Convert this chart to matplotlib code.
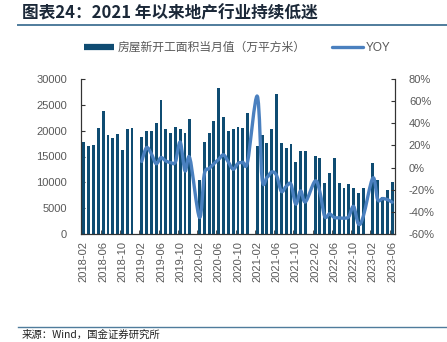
import numpy as np
import pandas as pd
import matplotlib
matplotlib.use("Agg")
import matplotlib.pyplot as plt
from matplotlib.lines import Line2D
from matplotlib.path import Path
from matplotlib.patches import PathPatch
from matplotlib.ticker import FixedLocator, FuncFormatter

plt.rcParams["font.family"] = ["Liberation Sans", "Noto Sans CJK SC", "DejaVu Sans"]

# monthly categories, January is reported together with February (no value)
months = [p.strftime("%Y-%m") for p in pd.period_range("2018-02", "2023-06", freq="M")]

# 房屋新开工面积当月值（万平方米）
starts = [
    17800, 17000, 17200, 20600, 23800, 19100, 18600, 19350, 16300, 20300, 20500,  # 2018-02..12
    None, 18800, 19950, 20000, 21450, 25900, 20250, 19500, 20700, 20250, 19500, 22200,  # 2019
    None, 10400, 17900, 19500, 21900, 28200, 22600, 20000, 20250, 20650, 20450, 23450,  # 2020
    None, 17100, 19200, 17700, 20350, 27100, 17650, 16550, 17400, 13850, 16050, 16050,  # 2021
    None, 15100, 14800, 9950, 11850, 14800, 9850, 8950, 9600, 8950, 7900, 8950,  # 2022
    None, 13700, 10500, 7150, 8500, 10150,  # 2023
]

# YOY, %
yoy = [
    None, None, None, None, None, None, None, None, None, None, None,
    None, 5.5, 18, 12.5, 3.5, 9, 6, 4.5, 5, 23, -3, 8.5,
    None, -45, -6, -1, 3.5, 7.5, 11.5, 5, -1.5, 3.8, 4.7, 5.5,
    None, 64.5, -10, -9, -4, -7, -21.5, -17, -15, -33, -21, -31,
    None, -12.2, -22, -44.2, -41.8, -45.1, -45.4, -45.7, -44.4, -35.1, -50.9, -44.3,
    None, -9.4, -29, -28, -28.9, -31.3,
]

BAR_COLOR = "#0f4c72"
LINE_COLOR = "#4a80bf"
TICK_COLOR = "#595959"
SPINE_COLOR = "#333333"
RULE_COLOR = "#4f7c9c"


def smooth_path(xs, ys):
    """Catmull-Rom style cubic path through the points (like a smoothed line)."""
    pts = np.column_stack([xs, ys]).astype(float)
    verts = [pts[0]]
    codes = [Path.MOVETO]
    n = len(pts)
    for i in range(n - 1):
        p0 = pts[i - 1] if i > 0 else pts[i]
        p1 = pts[i]
        p2 = pts[i + 1]
        p3 = pts[i + 2] if i + 2 < n else pts[i + 1]
        c1 = p1 + (p2 - p0) / 6.0
        c2 = p2 - (p3 - p1) / 6.0
        verts += [c1, c2, p2]
        codes += [Path.CURVE4] * 3
    return Path(verts, codes)


fig = plt.figure(figsize=(4.47, 3.42), dpi=100)
ax = fig.add_axes([81 / 447, 1 - 234 / 342, 314 / 447, 155 / 342])
ax2 = ax.twinx()

x = np.arange(len(months))
bar_vals = np.array([np.nan if v is None else v for v in starts], dtype=float)
ax.bar(x, bar_vals, width=0.6, color=BAR_COLOR, linewidth=0, zorder=2)

yoy_vals = np.array([np.nan if v is None else v for v in yoy], dtype=float)
ok = ~np.isnan(yoy_vals)
ax2.add_patch(PathPatch(smooth_path(x[ok], yoy_vals[ok]), facecolor="none",
                        edgecolor=LINE_COLOR, lw=2.4, capstyle="round", joinstyle="round"))

ax.set_xlim(-0.6, len(months) - 0.4)
ax.set_ylim(0, 30000)
ax.set_yticks(np.arange(0, 30001, 5000))
ax2.set_ylim(-60, 80)
ax2.set_yticks(np.arange(-60, 81, 20))
ax2.yaxis.set_major_formatter(FuncFormatter(lambda v, _: f"{v:.0f}%"))

ax.set_xticks(x[::4])
ax.set_xticklabels(months[::4], rotation=90)
ax.xaxis.set_minor_locator(FixedLocator(np.arange(-0.5, len(months), 4)))
ax.tick_params(axis="x", which="major", length=0, pad=5, labelsize=8, labelcolor=TICK_COLOR)
ax.tick_params(axis="x", which="minor", length=3, direction="in", color=SPINE_COLOR)
ax.tick_params(axis="y", length=3, direction="in", color=SPINE_COLOR,
               labelsize=8, labelcolor=TICK_COLOR, pad=10)
ax2.tick_params(axis="y", length=3, direction="in", color=SPINE_COLOR,
                labelsize=8, labelcolor=TICK_COLOR, pad=10)

for a in (ax, ax2):
    a.spines["top"].set_visible(False)
    for s in ("left", "right", "bottom"):
        a.spines[s].set_color(SPINE_COLOR)
        a.spines[s].set_linewidth(0.8)

handles = [
    Line2D([], [], color=BAR_COLOR, lw=4.5, solid_capstyle="butt"),
    Line2D([], [], color=LINE_COLOR, lw=2.4, solid_capstyle="round"),
]
fig.legend(handles, ["房屋新开工面积当月值（万平方米）", "YOY"], loc="center",
           bbox_to_anchor=(0.531, 1 - 48 / 342), ncol=2, frameon=False,
           fontsize=8.5, handlelength=2.6, handletextpad=0.3, columnspacing=2.2,
           labelcolor=TICK_COLOR)

fig.text(22 / 447, 1 - 13 / 342, "图表24：2021 年以来地产行业持续低迷", fontsize=12,
         fontweight="bold", color="#1b2838", va="center", ha="left",
         family=["Noto Sans CJK SC", "DejaVu Sans"])
fig.add_artist(Line2D([18 / 447, 1], [1 - 24.5 / 342] * 2, color=RULE_COLOR, lw=1.4))
fig.add_artist(Line2D([18 / 447, 1], [1 - 327 / 342] * 2, color=RULE_COLOR, lw=1.0))
fig.text(22 / 447, 1 - 330 / 342, "来源：Wind，国金证券研究所", fontsize=7.5,
         color="#222222", va="top", ha="left", family=["Noto Sans CJK SC", "DejaVu Sans"])

fig.savefig("out.png", dpi=100)
